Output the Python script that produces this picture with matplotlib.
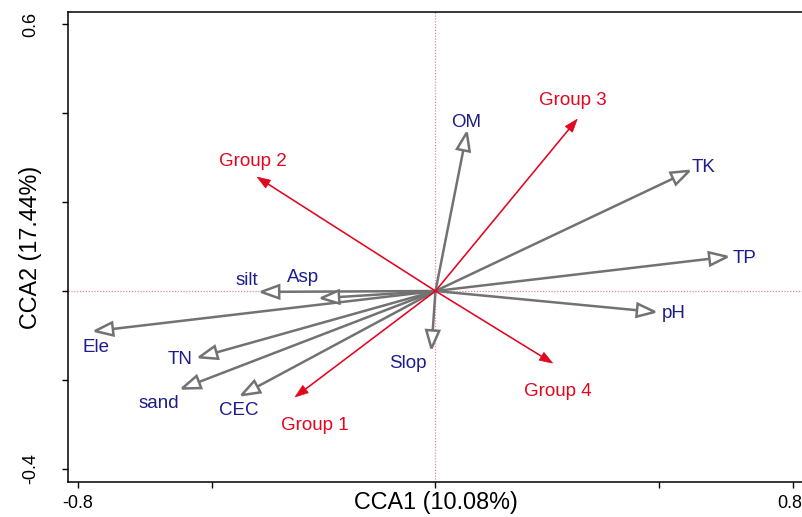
import matplotlib
matplotlib.use('Agg')
import numpy as np
import matplotlib.pyplot as plt
from matplotlib.patches import Polygon
from matplotlib.lines import Line2D
from matplotlib.transforms import ScaledTranslation

# ---------------- data ----------------
env_names = ['OM', 'TK', 'TP', 'pH', 'Slop', 'silt', 'Asp', 'Ele', 'TN', 'sand', 'CEC']
env_cca1 = [0.070, 0.568, 0.653, 0.491, -0.009, -0.390, -0.256, -0.762, -0.529, -0.567, -0.434]
env_cca2 = [0.356, 0.270, 0.077, -0.047, -0.129, -0.002, -0.016, -0.090, -0.149, -0.219, -0.234]

grp_names = ['Group 1', 'Group 2', 'Group 3', 'Group 4']
grp_cca1 = [-0.314, -0.399, 0.317, 0.262]
grp_cca2 = [-0.238, 0.256, 0.386, -0.162]

x_ticks = [-0.8, -0.5, 0.0, 0.5, 0.8]
x_ticklabels = ['-0.8', '', '', '', '0.8']
y_ticks = [-0.4, -0.2, 0.0, 0.2, 0.4, 0.6]
y_ticklabels = ['-0.4', '', '', '', '', '0.6']

x_title = 'CCA1 (10.08%)'
y_title = 'CCA2 (17.44%)'

# ---------------- layout (label offsets in pixels from arrow tips) ----------------
env_label_off = [(-0.5, 6), (14, -1), (17.7, -6.6), (18.8, -5.6), (-24, -20), (-14.3, 6.6),
                 (-17.7, 16.6), (0.8, -20.7), (-19.5, -6.7), (-23.5, -20), (-2.9, -20)]
grp_label_off = [(19.2, -32.6), (-4, 11.3), (-4, 14.3), (5.1, -32.7)]

GRAY = '#727272'
RED = '#e2061f'
NAVY = '#1c1c8c'
PINK = '#ee7f9f'
FONT = ['Liberation Sans', 'DejaVu Sans']

plt.rcParams['font.family'] = FONT

W, H = 803, 517
fig = plt.figure(figsize=(W / 100, H / 100), dpi=100)
left_px, right_px, top_px, bot_px = 68, 804, 12, 482
ax = fig.add_axes([left_px / W, 1 - bot_px / H, (right_px - left_px) / W, (bot_px - top_px) / H])
ax.set_xlim(-0.8223, 0.8246)
ax.set_ylim(-0.4292, 0.627)

for s in ['left', 'bottom', 'top']:
    ax.spines[s].set_linewidth(1.1)
ax.spines['right'].set_visible(False)

ax.set_xticks(x_ticks)
ax.set_xticklabels(x_ticklabels)
ax.set_yticks(y_ticks)
ax.set_yticklabels(y_ticklabels)
ax.tick_params(axis='both', direction='out', length=4, width=1.0, labelsize=13)
ax.tick_params(axis='x', pad=11.5)
ax.tick_params(axis='y', pad=23, labelrotation=90)
for lbl in ax.get_xticklabels():
    lbl.set_va('center')
for lbl in ax.get_yticklabels():
    lbl.set_ha('center')
    lbl.set_va('center')
# keep the rightmost tick label inside the picture
last = ax.get_xticklabels()[-1]
last.set_transform(last.get_transform() + ScaledTranslation(-3 / 100, 0, fig.dpi_scale_trans))

ax.set_xlabel(x_title, fontsize=16.8)
ax.set_ylabel(y_title, fontsize=16.8)
ax.xaxis.set_label_coords(0.5, (bot_px - 503) / (bot_px - top_px))
ax.xaxis.label.set_va('center')
ax.yaxis.set_label_coords((31 - left_px) / (right_px - left_px), 0.5)
ax.yaxis.label.set_va('center')
ax.yaxis.label.set_ha('center')

# dotted reference lines
ax.axhline(0, color=PINK, lw=0.9, ls=(0, (1, 1.3)), zorder=1)
ax.axvline(0, color=PINK, lw=0.9, ls=(0, (1, 1.3)), zorder=1)

fig.canvas.draw()
T = ax.transData
Tinv = T.inverted()


def draw_arrow(x, y, color, lw, head_len, head_half, filled, z):
    o = T.transform((0, 0))
    tip = T.transform((x, y))
    d = tip - o
    u = d / np.hypot(*d)
    n = np.array([-u[1], u[0]])
    base = tip - head_len * u
    if filled:
        line_end = tip - 0.6 * head_len * u
    else:
        line_end = base
    pts = Tinv.transform(np.array([o, line_end]))
    ax.add_line(Line2D(pts[:, 0], pts[:, 1], color=color, lw=lw, zorder=z,
                       solid_capstyle='butt'))
    head = Tinv.transform(np.array([tip, base + head_half * n, base - head_half * n]))
    ax.add_patch(Polygon(head, closed=True,
                         facecolor=color if filled else 'white',
                         edgecolor=color, lw=lw if not filled else 0.5,
                         joinstyle='miter', zorder=z + 0.1))


for i, name in enumerate(env_names):
    draw_arrow(env_cca1[i], env_cca2[i], GRAY, 1.8, 18, 6.5, False, 3)
    dx, dy = env_label_off[i]
    ax.annotate(name, (env_cca1[i], env_cca2[i]), xytext=(dx, dy), textcoords='offset pixels',
                ha='center', va='baseline', color=NAVY, fontsize=13.5, zorder=6)

for i, name in enumerate(grp_names):
    draw_arrow(grp_cca1[i], grp_cca2[i], RED, 1.15, 13, 4.6, True, 5)
    dx, dy = grp_label_off[i]
    ax.annotate(name, (grp_cca1[i], grp_cca2[i]), xytext=(dx, dy), textcoords='offset pixels',
                ha='center', va='baseline', color=RED, fontsize=13.5, zorder=6)

fig.savefig('out.png', dpi=100)
